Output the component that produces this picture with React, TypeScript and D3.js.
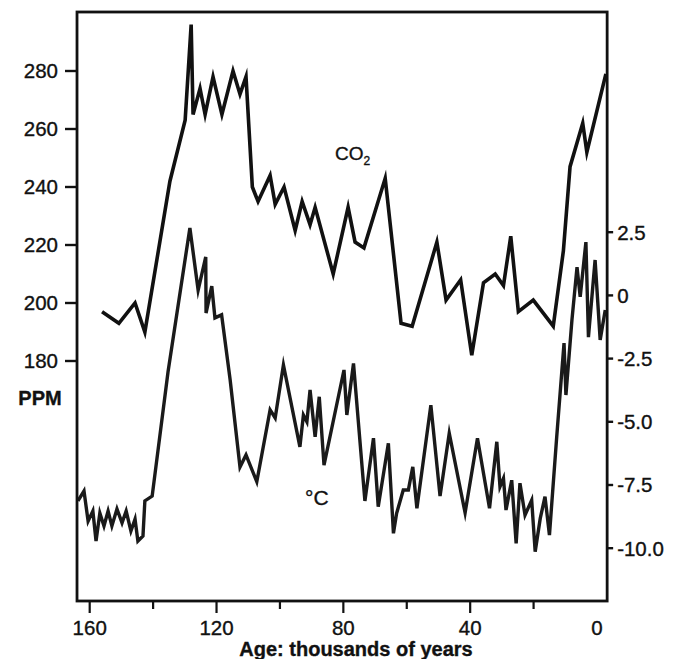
import React from "react";
import * as d3 from "d3";

// CO2 record (thousands of years before present, ppm)
const co2Ages = [156.1, 150.8, 145.7, 142.6, 134.7, 129.9, 128.0, 127.4, 125.2, 123.6, 121.1, 118.3, 114.8, 112.6, 110.7, 108.7, 106.9, 103.1, 101.5, 98.7, 95.2, 93.0, 90.5, 88.9, 83.2, 78.5, 76.3, 73.5, 66.8, 61.8, 58.3, 50.5, 47.6, 43.0, 39.5, 35.8, 32.1, 29.5, 27.2, 24.8, 20.1, 13.8, 10.6, 8.5, 4.5, 3.2, -2.8];
const co2Ppm = [197, 193, 200, 190, 242, 263, 296, 265, 274, 265, 278, 265, 280, 272, 278, 240, 235, 244, 234, 240, 225, 235, 227, 233, 210, 233, 221, 219, 243, 193, 192, 221, 201, 208, 182, 207, 210, 206, 223, 197, 201, 192, 218, 247, 262, 252, 279];

// temperature anomaly record (thousands of years, °C)
const tempAges = [163.7, 161.8, 160.5, 159.0, 158.0, 156.8, 155.5, 154.2, 153.0, 151.4, 149.8, 148.5, 147.0, 145.7, 144.8, 143.2, 142.6, 140.3, 135.3, 128.4, 125.8, 123.4, 123.3, 121.5, 120.5, 118.4, 115.7, 112.6, 110.7, 107.3, 103.1, 101.5, 98.9, 93.7, 92.6, 91.5, 90.5, 88.9, 87.6, 86.1, 79.8, 78.9, 76.8, 73.2, 70.5, 69.0, 65.8, 64.2, 63.2, 61.1, 59.5, 58.1, 56.8, 52.4, 49.5, 46.6, 41.6, 37.7, 33.9, 31.6, 30.6, 29.5, 28.7, 26.9, 25.5, 24.3, 22.7, 20.6, 19.5, 17.9, 16.4, 15.0, 12.7, 10.4, 9.8, 7.9, 6.3, 5.3, 3.5, 2.7, 0.6, -1.0, -2.6];
const tempVals = [-8.13, -7.74, -8.93, -8.53, -9.72, -8.61, -9.12, -8.53, -9.12, -8.45, -9.0, -8.53, -9.32, -8.85, -9.72, -9.52, -8.13, -7.94, -3.03, 2.67, 0.21, 1.52, -0.7, 0.37, -0.89, -0.77, -3.35, -6.79, -6.31, -7.37, -4.53, -4.85, -2.75, -5.99, -4.73, -5.0, -3.74, -5.59, -4.01, -6.71, -2.95, -4.73, -2.69, -8.13, -5.65, -8.36, -5.85, -9.41, -8.62, -7.7, -7.7, -6.78, -8.42, -4.34, -7.94, -5.45, -8.6, -5.65, -8.42, -5.79, -7.57, -7.24, -8.49, -7.31, -9.81, -7.43, -8.69, -8.1, -10.14, -8.82, -7.96, -9.48, -5.59, -1.89, -3.94, -0.97, 1.12, -0.06, 2.11, -1.65, 1.4, -1.76, -0.58];

const ageTicks = [160, 140, 120, 100, 80, 60, 40, 20];
const ageLabels = [160, 120, 80, 40, 0];
const ppmTicks = [180, 200, 220, 240, 260, 280];
const tempTicks = [2.5, 0, -2.5, -5.0, -7.5, -10.0];

const W = 673;
const H = 659;
const font = "'Liberation Sans', Arial, Helvetica, sans-serif";
const ink = "#111";

export default function App() {
  const x = d3.scaleLinear().domain([160, 0]).range([89.7, 597]);
  const yCo2 = d3.scaleLinear().domain([180, 280]).range([361, 71]);
  const yTemp = d3.scaleLinear().domain([-10, 2.5]).range([548.2, 232.2]);

  const left = x(164);
  const right = x(-3.2);
  const top = 12;
  const bottom = 601;

  const co2Line = d3
    .line<number>()
    .x((_, i) => x(co2Ages[i]))
    .y((d) => yCo2(d));
  const tempLine = d3
    .line<number>()
    .x((_, i) => x(tempAges[i]))
    .y((d) => yTemp(d));

  // slightly heavier type, like the printed original
  const txt = { fill: ink, stroke: ink, strokeWidth: 0.35 };

  return (
    <svg
      width={W}
      height={H}
      style={{ position: "absolute", left: 0, top: 0, background: "#fff" }}
      fontFamily={font}
    >
      <rect x={0} y={0} width={W} height={H} fill="#fff" />

      {/* data lines */}
      <path d={co2Line(co2Ppm) || ""} fill="none" stroke={ink} strokeWidth={3.6} strokeLinejoin="miter" strokeMiterlimit={6} />
      <path d={tempLine(tempVals) || ""} fill="none" stroke="#1a1a1a" strokeWidth={3.4} strokeLinejoin="miter" strokeMiterlimit={6} />

      {/* frame */}
      <rect x={left} y={top} width={right - left} height={bottom - top} fill="none" stroke={ink} strokeWidth={2.8} />

      {/* left axis: ppm */}
      {ppmTicks.map((t) => (
        <g key={"p" + t}>
          <line x1={left - 12} x2={left} y1={yCo2(t)} y2={yCo2(t)} stroke={ink} strokeWidth={2.4} />
          <text x={left - 19} y={yCo2(t)} dy="0.36em" textAnchor="end" fontSize={20.5} {...txt}>
            {t}
          </text>
        </g>
      ))}
      <text x={40} y={398} dy="0.36em" textAnchor="middle" fontSize={20} fontWeight="bold" {...txt}>
        PPM
      </text>

      {/* right axis: temperature */}
      {tempTicks.map((t) => (
        <g key={"t" + t}>
          <line x1={right} x2={right + 6} y1={yTemp(t)} y2={yTemp(t)} stroke={ink} strokeWidth={2.4} />
          <text x={right + 10} y={yTemp(t)} dy="0.36em" textAnchor="start" fontSize={20.5} {...txt}>
            {t === 0 ? "0" : t.toFixed(1)}
          </text>
        </g>
      ))}

      {/* bottom axis: age */}
      {ageTicks.map((t) => (
        <line key={"a" + t} x1={x(t)} x2={x(t)} y1={bottom} y2={bottom + (t % 40 === 0 ? 12 : 8)} stroke={ink} strokeWidth={2.2} />
      ))}
      {ageLabels.map((t) => (
        <text key={"al" + t} x={x(t)} y={635} textAnchor="middle" fontSize={20.5} {...txt}>
          {t}
        </text>
      ))}
      <text x={356} y={656} textAnchor="middle" fontSize={20} fontWeight="bold" {...txt}>
        Age: thousands of years
      </text>

      {/* series labels */}
      <text x={335} y={160} fontSize={19} {...txt}>
        CO<tspan fontSize={12} dy={5}>2</tspan>
      </text>
      <text x={305} y={505} fontSize={21} {...txt}>
        °C
      </text>
    </svg>
  );
}
